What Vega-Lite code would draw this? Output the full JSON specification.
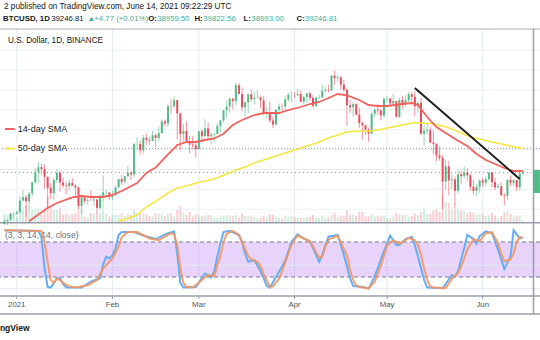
{
  "$schema": "https://vega.github.io/schema/vega-lite/v6.json",
  "width": 540,
  "height": 267,
  "autosize": {"type": "none"},
  "padding": {"left": 0, "right": 0, "top": 29, "bottom": 44},
  "background": "#ffffff",
  "config": {"view": {"stroke": null}, "font": "Liberation Sans"},
  "datasets": {
    "months": [
      {"d":"2021-01-01","lab":"2021"},{"d":"2021-02-01","lab":"Feb"},{"d":"2021-03-01","lab":"Mar"},
      {"d":"2021-04-01","lab":"Apr"},{"d":"2021-05-01","lab":"May"},{"d":"2021-06-01","lab":"Jun"}
    ],
    "candles": [
      {"d":"2020-12-28","o":26281,"h":27500,"l":26101,"c":27036,"v":82},
      {"d":"2020-12-29","o":27036,"h":27370,"l":25987,"c":27376,"v":74},
      {"d":"2020-12-30","o":27376,"h":28997,"l":27320,"c":28875,"v":96},
      {"d":"2020-12-31","o":28875,"h":29300,"l":27850,"c":28923,"v":76},
      {"d":"2021-01-01","o":28923,"h":29600,"l":28624,"c":29331,"v":54},
      {"d":"2021-01-02","o":29331,"h":33300,"l":28946,"c":32178,"v":130},
      {"d":"2021-01-03","o":32176,"h":34778,"l":31962,"c":33000,"v":121},
      {"d":"2021-01-04","o":33000,"h":33600,"l":28130,"c":31988,"v":164},
      {"d":"2021-01-05","o":31989,"h":34360,"l":29900,"c":33949,"v":120},
      {"d":"2021-01-06","o":33950,"h":36939,"l":33288,"c":36769,"v":126},
      {"d":"2021-01-07","o":36769,"h":40365,"l":36300,"c":39432,"v":135},
      {"d":"2021-01-08","o":39433,"h":41950,"l":36500,"c":40582,"v":139},
      {"d":"2021-01-09","o":40586,"h":41380,"l":38720,"c":40088,"v":75},
      {"d":"2021-01-10","o":40088,"h":41350,"l":35111,"c":38150,"v":115},
      {"d":"2021-01-11","o":38150,"h":38264,"l":30420,"c":35404,"v":252},
      {"d":"2021-01-12","o":35410,"h":36628,"l":32531,"c":34051,"v":155},
      {"d":"2021-01-13","o":34049,"h":37850,"l":32380,"c":37371,"v":126},
      {"d":"2021-01-14","o":37371,"h":40100,"l":36701,"c":39144,"v":120},
      {"d":"2021-01-15","o":39145,"h":39747,"l":34408,"c":36742,"v":146},
      {"d":"2021-01-16","o":36737,"h":37950,"l":35357,"c":35994,"v":73},
      {"d":"2021-01-17","o":35995,"h":36852,"l":33850,"c":35828,"v":82},
      {"d":"2021-01-18","o":35825,"h":37469,"l":34800,"c":36631,"v":70},
      {"d":"2021-01-19","o":36623,"h":37850,"l":35844,"c":35891,"v":79},
      {"d":"2021-01-20","o":35901,"h":36415,"l":33400,"c":35468,"v":91},
      {"d":"2021-01-21","o":35468,"h":35600,"l":30071,"c":30850,"v":132},
      {"d":"2021-01-22","o":30851,"h":33826,"l":28850,"c":32945,"v":138},
      {"d":"2021-01-23","o":32950,"h":33456,"l":31390,"c":32078,"v":53},
      {"d":"2021-01-24","o":32078,"h":32944,"l":31106,"c":32259,"v":48},
      {"d":"2021-01-25","o":32259,"h":34880,"l":32083,"c":32254,"v":89},
      {"d":"2021-01-26","o":32251,"h":32921,"l":30837,"c":32467,"v":85},
      {"d":"2021-01-27","o":32465,"h":32557,"l":29241,"c":30366,"v":100},
      {"d":"2021-01-28","o":30362,"h":33783,"l":29842,"c":33364,"v":90},
      {"d":"2021-01-29","o":33368,"h":38531,"l":31915,"c":34252,"v":199},
      {"d":"2021-01-30","o":34246,"h":34933,"l":32825,"c":34262,"v":82},
      {"d":"2021-01-31","o":34262,"h":34342,"l":32250,"c":33092,"v":55},
      {"d":"2021-02-01","o":33092,"h":34717,"l":32297,"c":33526,"v":67},
      {"d":"2021-02-02","o":33517,"h":35984,"l":33418,"c":35466,"v":71},
      {"d":"2021-02-03","o":35472,"h":37662,"l":35362,"c":37618,"v":73},
      {"d":"2021-02-04","o":37620,"h":38708,"l":36161,"c":36936,"v":89},
      {"d":"2021-02-05","o":36936,"h":38310,"l":36570,"c":38290,"v":62},
      {"d":"2021-02-06","o":38289,"h":40955,"l":38215,"c":39186,"v":79},
      {"d":"2021-02-07","o":39181,"h":39700,"l":37351,"c":38795,"v":70},
      {"d":"2021-02-08","o":38795,"h":46794,"l":37988,"c":46374,"v":123},
      {"d":"2021-02-09","o":46374,"h":48142,"l":44961,"c":46420,"v":90},
      {"d":"2021-02-10","o":46420,"h":47310,"l":43727,"c":44807,"v":84},
      {"d":"2021-02-11","o":44807,"h":48678,"l":43995,"c":47970,"v":84},
      {"d":"2021-02-12","o":47968,"h":48985,"l":46125,"c":47408,"v":76},
      {"d":"2021-02-13","o":47408,"h":48047,"l":46202,"c":47231,"v":58},
      {"d":"2021-02-14","o":47240,"h":49707,"l":47014,"c":48588,"v":56},
      {"d":"2021-02-15","o":48597,"h":49010,"l":45700,"c":47911,"v":88},
      {"d":"2021-02-16","o":47911,"h":50689,"l":47003,"c":49133,"v":80},
      {"d":"2021-02-17","o":49133,"h":52618,"l":48947,"c":52119,"v":73},
      {"d":"2021-02-18","o":52117,"h":52530,"l":50901,"c":51552,"v":59},
      {"d":"2021-02-19","o":51550,"h":56368,"l":50710,"c":55906,"v":80},
      {"d":"2021-02-20","o":55906,"h":57700,"l":53863,"c":55841,"v":85},
      {"d":"2021-02-21","o":55842,"h":58352,"l":55477,"c":57408,"v":52},
      {"d":"2021-02-22","o":57412,"h":57508,"l":47600,"c":54087,"v":122},
      {"d":"2021-02-23","o":54087,"h":54183,"l":44892,"c":48891,"v":160},
      {"d":"2021-02-24","o":48891,"h":51374,"l":47003,"c":49676,"v":88},
      {"d":"2021-02-25","o":49677,"h":52042,"l":46674,"c":47073,"v":70},
      {"d":"2021-02-26","o":47063,"h":48425,"l":44106,"c":46276,"v":100},
      {"d":"2021-02-27","o":46278,"h":48394,"l":45000,"c":46106,"v":55},
      {"d":"2021-02-28","o":46104,"h":46640,"l":43000,"c":45135,"v":82},
      {"d":"2021-03-01","o":45134,"h":49790,"l":45115,"c":49587,"v":68},
      {"d":"2021-03-02","o":49595,"h":50200,"l":47047,"c":48440,"v":56},
      {"d":"2021-03-03","o":48436,"h":52640,"l":48100,"c":50349,"v":64},
      {"d":"2021-03-04","o":50349,"h":51773,"l":47500,"c":48374,"v":69},
      {"d":"2021-03-05","o":48374,"h":49448,"l":46300,"c":48751,"v":72},
      {"d":"2021-03-06","o":48747,"h":49200,"l":47070,"c":48882,"v":44},
      {"d":"2021-03-07","o":48882,"h":51450,"l":48882,"c":50971,"v":44},
      {"d":"2021-03-08","o":50959,"h":52402,"l":49274,"c":52375,"v":56},
      {"d":"2021-03-09","o":52376,"h":54895,"l":51789,"c":54884,"v":61},
      {"d":"2021-03-10","o":54875,"h":57387,"l":53005,"c":55851,"v":74},
      {"d":"2021-03-11","o":55851,"h":58150,"l":54272,"c":57773,"v":65},
      {"d":"2021-03-12","o":57773,"h":58058,"l":55013,"c":57221,"v":62},
      {"d":"2021-03-13","o":57222,"h":61844,"l":56078,"c":61188,"v":71},
      {"d":"2021-03-14","o":61188,"h":61724,"l":58966,"c":58968,"v":46},
      {"d":"2021-03-15","o":58976,"h":60633,"l":54600,"c":55605,"v":84},
      {"d":"2021-03-16","o":55606,"h":56938,"l":53271,"c":56900,"v":60},
      {"d":"2021-03-17","o":56900,"h":58981,"l":54124,"c":58912,"v":62},
      {"d":"2021-03-18","o":58913,"h":60100,"l":57023,"c":57648,"v":57},
      {"d":"2021-03-19","o":57641,"h":59468,"l":56270,"c":58030,"v":48},
      {"d":"2021-03-20","o":58030,"h":59880,"l":57820,"c":58102,"v":37},
      {"d":"2021-03-21","o":58100,"h":58589,"l":55450,"c":57351,"v":44},
      {"d":"2021-03-22","o":57351,"h":58430,"l":53650,"c":54083,"v":60},
      {"d":"2021-03-23","o":54083,"h":55830,"l":53000,"c":54340,"v":53},
      {"d":"2021-03-24","o":54342,"h":57200,"l":51700,"c":52303,"v":77},
      {"d":"2021-03-25","o":52303,"h":53287,"l":50427,"c":51293,"v":75},
      {"d":"2021-03-26","o":51293,"h":55073,"l":51225,"c":55025,"v":52},
      {"d":"2021-03-27","o":55025,"h":56600,"l":53966,"c":55817,"v":42},
      {"d":"2021-03-28","o":55818,"h":56578,"l":54691,"c":55777,"v":36},
      {"d":"2021-03-29","o":55782,"h":58400,"l":54900,"c":57635,"v":55},
      {"d":"2021-03-30","o":57635,"h":59368,"l":57000,"c":58746,"v":52},
      {"d":"2021-03-31","o":58740,"h":59800,"l":56769,"c":58740,"v":62},
      {"d":"2021-04-01","o":58739,"h":59490,"l":57935,"c":58720,"v":48},
      {"d":"2021-04-02","o":58720,"h":60200,"l":58428,"c":58950,"v":45},
      {"d":"2021-04-03","o":58951,"h":59791,"l":56956,"c":57051,"v":48},
      {"d":"2021-04-04","o":57048,"h":58500,"l":56478,"c":58202,"v":40},
      {"d":"2021-04-05","o":58202,"h":59253,"l":56817,"c":59129,"v":52},
      {"d":"2021-04-06","o":59129,"h":59475,"l":57333,"c":57991,"v":55},
      {"d":"2021-04-07","o":57990,"h":58650,"l":55473,"c":56000,"v":74},
      {"d":"2021-04-08","o":55953,"h":58153,"l":55700,"c":58076,"v":46},
      {"d":"2021-04-09","o":58077,"h":58894,"l":57654,"c":58131,"v":39},
      {"d":"2021-04-10","o":58130,"h":61215,"l":57900,"c":59770,"v":60},
      {"d":"2021-04-11","o":59770,"h":60800,"l":59360,"c":60007,"v":34},
      {"d":"2021-04-12","o":60007,"h":61300,"l":59350,"c":59860,"v":51},
      {"d":"2021-04-13","o":59861,"h":63774,"l":59805,"c":63575,"v":72},
      {"d":"2021-04-14","o":63575,"h":64854,"l":61301,"c":62959,"v":92},
      {"d":"2021-04-15","o":62959,"h":63800,"l":62020,"c":63159,"v":48},
      {"d":"2021-04-16","o":63159,"h":63520,"l":60000,"c":61334,"v":66},
      {"d":"2021-04-17","o":61334,"h":62506,"l":59580,"c":60006,"v":60},
      {"d":"2021-04-18","o":60006,"h":60499,"l":50931,"c":56150,"v":120},
      {"d":"2021-04-19","o":56150,"h":57526,"l":54221,"c":55633,"v":74},
      {"d":"2021-04-20","o":55634,"h":57076,"l":53329,"c":56425,"v":80},
      {"d":"2021-04-21","o":56425,"h":56757,"l":53695,"c":53787,"v":63},
      {"d":"2021-04-22","o":53787,"h":55410,"l":50400,"c":51690,"v":104},
      {"d":"2021-04-23","o":51690,"h":52131,"l":47500,"c":51125,"v":106},
      {"d":"2021-04-24","o":51111,"h":51166,"l":48657,"c":50047,"v":55},
      {"d":"2021-04-25","o":50047,"h":50567,"l":46930,"c":49004,"v":58},
      {"d":"2021-04-26","o":49004,"h":54356,"l":48753,"c":54021,"v":82},
      {"d":"2021-04-27","o":54022,"h":55460,"l":53222,"c":55034,"v":56},
      {"d":"2021-04-28","o":55034,"h":56428,"l":53813,"c":54824,"v":59},
      {"d":"2021-04-29","o":54824,"h":55200,"l":52330,"c":53556,"v":57},
      {"d":"2021-04-30","o":53556,"h":58075,"l":53013,"c":57750,"v":68},
      {"d":"2021-05-01","o":57751,"h":58448,"l":57052,"c":57828,"v":42},
      {"d":"2021-05-02","o":57828,"h":57911,"l":56035,"c":56610,"v":37},
      {"d":"2021-05-03","o":56610,"h":58973,"l":56478,"c":57213,"v":53},
      {"d":"2021-05-04","o":57214,"h":57214,"l":53046,"c":53241,"v":87},
      {"d":"2021-05-05","o":53241,"h":57939,"l":52900,"c":57473,"v":75},
      {"d":"2021-05-06","o":57473,"h":58360,"l":55200,"c":56428,"v":72},
      {"d":"2021-05-07","o":56429,"h":58644,"l":55800,"c":57380,"v":69},
      {"d":"2021-05-08","o":57380,"h":59500,"l":56957,"c":58929,"v":50},
      {"d":"2021-05-09","o":58929,"h":59300,"l":56235,"c":58280,"v":61},
      {"d":"2021-05-10","o":58280,"h":59592,"l":53400,"c":55883,"v":90},
      {"d":"2021-05-11","o":55883,"h":56900,"l":54370,"c":56750,"v":68},
      {"d":"2021-05-12","o":56750,"h":58000,"l":48600,"c":49007,"v":97},
      {"d":"2021-05-13","o":49007,"h":51367,"l":46000,"c":49716,"v":148},
      {"d":"2021-05-14","o":49690,"h":51560,"l":48870,"c":49880,"v":82},
      {"d":"2021-05-15","o":49880,"h":50700,"l":46650,"c":46761,"v":83},
      {"d":"2021-05-16","o":46762,"h":49800,"l":43825,"c":46450,"v":117},
      {"d":"2021-05-17","o":46450,"h":46650,"l":42001,"c":43538,"v":131},
      {"d":"2021-05-18","o":43538,"h":45800,"l":42250,"c":42909,"v":100},
      {"d":"2021-05-19","o":42909,"h":43546,"l":30000,"c":36964,"v":270},
      {"d":"2021-05-20","o":36964,"h":42451,"l":34850,"c":40784,"v":200},
      {"d":"2021-05-21","o":40784,"h":42250,"l":33488,"c":37280,"v":190},
      {"d":"2021-05-22","o":37281,"h":38832,"l":35200,"c":37528,"v":127},
      {"d":"2021-05-23","o":37528,"h":38270,"l":31111,"c":34655,"v":183},
      {"d":"2021-05-24","o":34656,"h":39920,"l":34031,"c":38796,"v":146},
      {"d":"2021-05-25","o":38796,"h":39791,"l":36420,"c":38324,"v":114},
      {"d":"2021-05-26","o":38325,"h":40841,"l":37800,"c":39241,"v":104},
      {"d":"2021-05-27","o":39241,"h":40411,"l":37134,"c":38529,"v":83},
      {"d":"2021-05-28","o":38529,"h":38877,"l":34684,"c":35663,"v":100},
      {"d":"2021-05-29","o":35661,"h":37338,"l":33632,"c":34605,"v":90},
      {"d":"2021-05-30","o":34605,"h":36400,"l":33379,"c":35641,"v":70},
      {"d":"2021-05-31","o":35641,"h":37499,"l":34154,"c":37253,"v":80},
      {"d":"2021-06-01","o":37254,"h":37894,"l":35666,"c":36693,"v":76},
      {"d":"2021-06-02","o":36694,"h":38225,"l":35920,"c":37568,"v":60},
      {"d":"2021-06-03","o":37568,"h":39476,"l":37170,"c":39246,"v":68},
      {"d":"2021-06-04","o":39246,"h":39289,"l":35555,"c":36829,"v":90},
      {"d":"2021-06-05","o":36830,"h":37925,"l":34800,"c":35513,"v":64},
      {"d":"2021-06-06","o":35516,"h":36480,"l":35258,"c":35796,"v":38},
      {"d":"2021-06-07","o":35796,"h":36900,"l":33300,"c":33552,"v":60},
      {"d":"2021-06-08","o":33556,"h":34068,"l":31000,"c":33380,"v":100},
      {"d":"2021-06-09","o":33380,"h":37534,"l":32396,"c":37389,"v":110},
      {"d":"2021-06-10","o":37388,"h":38491,"l":35782,"c":36662,"v":84},
      {"d":"2021-06-11","o":36677,"h":37680,"l":35937,"c":37334,"v":55},
      {"d":"2021-06-12","o":37331,"h":37429,"l":34600,"c":35546,"v":65},
      {"d":"2021-06-13","o":35546,"h":39380,"l":34757,"c":39020,"v":66},
      {"d":"2021-06-14","o":38959.5,"h":39822.56,"l":38693,"c":39246.81,"v":20}
    ],
    "sma14": [
      {"d":"2021-01-05","p":27000},{"d":"2021-01-08","p":28700},{"d":"2021-01-11","p":30325},{"d":"2021-01-14","p":31581},
      {"d":"2021-01-19","p":33000},{"d":"2021-01-22","p":33340},{"d":"2021-01-25","p":33089},{"d":"2021-01-29","p":33089},
      {"d":"2021-02-01","p":33592},{"d":"2021-02-04","p":34597},{"d":"2021-02-07","p":35800},{"d":"2021-02-09","p":36607},
      {"d":"2021-02-12","p":39120},{"d":"2021-02-15","p":40500},{"d":"2021-02-18","p":43000},{"d":"2021-02-22","p":46157},
      {"d":"2021-02-25","p":46911},{"d":"2021-02-28","p":46911},{"d":"2021-03-03","p":47413},{"d":"2021-03-06","p":47800},
      {"d":"2021-03-09","p":49000},{"d":"2021-03-12","p":51183},{"d":"2021-03-15","p":52439},{"d":"2021-03-19","p":53696},
      {"d":"2021-03-22","p":54198},{"d":"2021-03-27","p":54198},{"d":"2021-03-30","p":54952},{"d":"2021-04-03","p":55706},
      {"d":"2021-04-06","p":56460},{"d":"2021-04-09","p":56963},{"d":"2021-04-12","p":57968},{"d":"2021-04-15","p":58973},
      {"d":"2021-04-18","p":58600},{"d":"2021-04-22","p":57465},{"d":"2021-04-25","p":56209},{"d":"2021-04-28","p":55958},
      {"d":"2021-05-01","p":55958},{"d":"2021-05-06","p":56460},{"d":"2021-05-09","p":56711},{"d":"2021-05-11","p":56209},
      {"d":"2021-05-14","p":53193},{"d":"2021-05-17","p":50680},{"d":"2021-05-20","p":49172},{"d":"2021-05-24","p":47200},
      {"d":"2021-05-27","p":45906},{"d":"2021-05-30","p":43895},{"d":"2021-06-02","p":42387},{"d":"2021-06-05","p":41382},
      {"d":"2021-06-08","p":40377},{"d":"2021-06-11","p":39623},{"d":"2021-06-14","p":39623}
    ],
    "sma50": [
      {"d":"2021-02-03","p":27000},{"d":"2021-02-09","p":28566},{"d":"2021-02-12","p":30576},{"d":"2021-02-15","p":32000},
      {"d":"2021-02-19","p":34094},{"d":"2021-02-22","p":35351},{"d":"2021-02-25","p":35854},{"d":"2021-02-28","p":36607},
      {"d":"2021-03-03","p":37110},{"d":"2021-03-07","p":37864},{"d":"2021-03-10","p":38869},{"d":"2021-03-13","p":39874},
      {"d":"2021-03-16","p":40628},{"d":"2021-03-19","p":41633},{"d":"2021-03-24","p":42890},{"d":"2021-03-27","p":43644},
      {"d":"2021-03-30","p":44398},{"d":"2021-04-03","p":45403},{"d":"2021-04-06","p":46157},{"d":"2021-04-09","p":46911},
      {"d":"2021-04-12","p":47916},{"d":"2021-04-15","p":48670},{"d":"2021-04-18","p":49424},{"d":"2021-04-22","p":49675},
      {"d":"2021-04-25","p":49675},{"d":"2021-04-28","p":49926},{"d":"2021-05-01","p":50429},{"d":"2021-05-06","p":51183},
      {"d":"2021-05-09","p":51685},{"d":"2021-05-12","p":51685},{"d":"2021-05-15","p":51560},{"d":"2021-05-19","p":50932},
      {"d":"2021-05-22","p":50178},{"d":"2021-05-25","p":49172},{"d":"2021-05-28","p":48167},{"d":"2021-05-31","p":47665},
      {"d":"2021-06-03","p":47100},{"d":"2021-06-07","p":46408},{"d":"2021-06-10","p":45906},{"d":"2021-06-14","p":45300}
    ],
    "stochK": [
      {"d":"2020-12-28","v":100},{"d":"2021-01-08","v":99},{"d":"2021-01-09","v":88},{"d":"2021-01-10","v":35},
      {"d":"2021-01-11","v":3},{"d":"2021-01-12","v":2},{"d":"2021-01-13","v":9},{"d":"2021-01-14","v":18},
      {"d":"2021-01-15","v":18},{"d":"2021-01-16","v":8},{"d":"2021-01-17","v":2},{"d":"2021-01-22","v":2},
      {"d":"2021-01-25","v":12},{"d":"2021-01-26","v":14},{"d":"2021-01-28","v":18},{"d":"2021-01-29","v":42},
      {"d":"2021-01-30","v":55},{"d":"2021-01-31","v":52},{"d":"2021-02-01","v":57},{"d":"2021-02-02","v":68},
      {"d":"2021-02-03","v":92},{"d":"2021-02-04","v":97},{"d":"2021-02-08","v":97},{"d":"2021-02-11","v":91},
      {"d":"2021-02-15","v":85},{"d":"2021-02-19","v":95},{"d":"2021-02-21","v":98},{"d":"2021-02-22","v":60},
      {"d":"2021-02-23","v":10},{"d":"2021-02-24","v":2},{"d":"2021-02-28","v":3},{"d":"2021-03-03","v":26},
      {"d":"2021-03-05","v":19},{"d":"2021-03-06","v":30},{"d":"2021-03-07","v":55},{"d":"2021-03-08","v":78},
      {"d":"2021-03-09","v":97},{"d":"2021-03-11","v":99},{"d":"2021-03-14","v":92},{"d":"2021-03-15","v":80},
      {"d":"2021-03-16","v":60},{"d":"2021-03-17","v":46},{"d":"2021-03-19","v":49},{"d":"2021-03-21","v":30},
      {"d":"2021-03-22","v":18},{"d":"2021-03-23","v":5},{"d":"2021-03-24","v":2},{"d":"2021-03-27","v":29},
      {"d":"2021-03-29","v":48},{"d":"2021-03-31","v":80},{"d":"2021-04-02","v":93},{"d":"2021-04-04","v":86},
      {"d":"2021-04-06","v":81},{"d":"2021-04-09","v":46},{"d":"2021-04-10","v":58},{"d":"2021-04-12","v":89},
      {"d":"2021-04-15","v":92},{"d":"2021-04-17","v":58},{"d":"2021-04-19","v":18},{"d":"2021-04-20","v":5},
      {"d":"2021-04-24","v":2},{"d":"2021-04-25","v":0},{"d":"2021-04-27","v":21},{"d":"2021-04-29","v":50},
      {"d":"2021-04-30","v":64},{"d":"2021-05-02","v":91},{"d":"2021-05-04","v":75},{"d":"2021-05-05","v":75},
      {"d":"2021-05-07","v":85},{"d":"2021-05-09","v":89},{"d":"2021-05-10","v":75},{"d":"2021-05-11","v":55},
      {"d":"2021-05-12","v":35},{"d":"2021-05-13","v":15},{"d":"2021-05-14","v":2},{"d":"2021-05-19","v":1},
      {"d":"2021-05-20","v":8},{"d":"2021-05-21","v":16},{"d":"2021-05-22","v":23},{"d":"2021-05-23","v":21},
      {"d":"2021-05-24","v":30},{"d":"2021-05-25","v":50},{"d":"2021-05-26","v":70},{"d":"2021-05-27","v":92},
      {"d":"2021-05-29","v":85},{"d":"2021-05-30","v":77},{"d":"2021-05-31","v":90},{"d":"2021-06-02","v":98},
      {"d":"2021-06-04","v":95},{"d":"2021-06-06","v":66},{"d":"2021-06-08","v":34},{"d":"2021-06-10","v":55},
      {"d":"2021-06-11","v":100},{"d":"2021-06-13","v":86},{"d":"2021-06-14","v":87}
    ],
    "stochD": [
      {"d":"2020-12-28","v":100},{"d":"2021-01-09","v":99},{"d":"2021-01-10","v":80},{"d":"2021-01-11","v":45},
      {"d":"2021-01-12","v":15},{"d":"2021-01-13","v":10},{"d":"2021-01-14","v":17},{"d":"2021-01-15","v":15},
      {"d":"2021-01-16","v":10},{"d":"2021-01-18","v":4},{"d":"2021-01-20","v":2},{"d":"2021-01-24","v":6},
      {"d":"2021-01-27","v":15},{"d":"2021-01-29","v":35},{"d":"2021-02-01","v":52},{"d":"2021-02-03","v":72},
      {"d":"2021-02-04","v":88},{"d":"2021-02-06","v":97},{"d":"2021-02-09","v":97},{"d":"2021-02-13","v":86},
      {"d":"2021-02-16","v":83},{"d":"2021-02-20","v":95},{"d":"2021-02-21","v":92},{"d":"2021-02-22","v":75},
      {"d":"2021-02-23","v":35},{"d":"2021-02-24","v":10},{"d":"2021-02-25","v":3},{"d":"2021-02-27","v":2},
      {"d":"2021-03-01","v":10},{"d":"2021-03-03","v":20},{"d":"2021-03-04","v":23},{"d":"2021-03-06","v":22},
      {"d":"2021-03-07","v":40},{"d":"2021-03-08","v":57},{"d":"2021-03-09","v":80},{"d":"2021-03-10","v":94},
      {"d":"2021-03-12","v":99},{"d":"2021-03-14","v":92},{"d":"2021-03-15","v":80},{"d":"2021-03-16","v":68},
      {"d":"2021-03-17","v":56},{"d":"2021-03-18","v":50},{"d":"2021-03-20","v":46},{"d":"2021-03-21","v":38},
      {"d":"2021-03-22","v":25},{"d":"2021-03-23","v":15},{"d":"2021-03-24","v":3},{"d":"2021-03-25","v":4},
      {"d":"2021-03-27","v":17},{"d":"2021-03-28","v":30},{"d":"2021-03-29","v":45},{"d":"2021-03-30","v":60},
      {"d":"2021-03-31","v":75},{"d":"2021-04-02","v":91},{"d":"2021-04-04","v":86},{"d":"2021-04-06","v":81},
      {"d":"2021-04-07","v":72},{"d":"2021-04-09","v":53},{"d":"2021-04-10","v":55},{"d":"2021-04-11","v":72},
      {"d":"2021-04-12","v":84},{"d":"2021-04-15","v":91},{"d":"2021-04-16","v":80},{"d":"2021-04-17","v":68},
      {"d":"2021-04-18","v":57},{"d":"2021-04-19","v":32},{"d":"2021-04-20","v":15},{"d":"2021-04-21","v":6},
      {"d":"2021-04-22","v":3},{"d":"2021-04-25","v":0.6},{"d":"2021-04-27","v":12},{"d":"2021-04-29","v":40},
      {"d":"2021-04-30","v":57},{"d":"2021-05-01","v":74},{"d":"2021-05-03","v":83},{"d":"2021-05-05","v":77},
      {"d":"2021-05-06","v":80},{"d":"2021-05-08","v":87},{"d":"2021-05-10","v":83},{"d":"2021-05-11","v":75},
      {"d":"2021-05-12","v":58},{"d":"2021-05-13","v":35},{"d":"2021-05-14","v":15},{"d":"2021-05-15","v":4},
      {"d":"2021-05-16","v":2},{"d":"2021-05-20","v":1},{"d":"2021-05-22","v":17},{"d":"2021-05-24","v":27},
      {"d":"2021-05-25","v":38},{"d":"2021-05-26","v":52},{"d":"2021-05-27","v":67},{"d":"2021-05-29","v":85},
      {"d":"2021-05-31","v":81},{"d":"2021-06-02","v":95},{"d":"2021-06-04","v":97},{"d":"2021-06-06","v":77},
      {"d":"2021-06-07","v":60},{"d":"2021-06-08","v":47},{"d":"2021-06-10","v":50},{"d":"2021-06-11","v":60},
      {"d":"2021-06-12","v":80},{"d":"2021-06-13","v":89},{"d":"2021-06-14","v":87}
    ]
  },
  "layer": [
    {
      "layer": [
        {
          "data": {"name": "months"},
          "mark": {"type": "rule", "color": "#e4ebf4", "strokeWidth": 1},
          "encoding": {
            "x": {"field": "d", "type": "temporal", "scale": {"type": "utc", "domain": [1609129411200, 1623969105840], "nice": false}, "axis": null},
            "y": {"datum": 444.7, "type": "quantitative", "scale": {"domain": [0, 100], "range": [259.7, 201.3], "nice": false, "zero": false}, "axis": null},
            "y2": {"datum": -12.5}
          }
        }
      ]
    },
    {
      "data": {"name": "candles"},
      "mark": {"type": "bar", "size": 2, "opacity": 0.28},
      "encoding": {
        "x": {"field": "d", "type": "temporal", "scale": {"type": "utc", "domain": [1609129411200, 1623969105840], "nice": false}, "axis": null},
        "y": {"field": "v", "type": "quantitative", "scale": {"domain": [0, 300], "range": [193, 163], "nice": false, "zero": false}, "axis": null},
        "color": {"condition": {"test": "datum.c >= datum.o", "value": "#53b987"}, "value": "#eb4d5c"}
      }
    },
    {
      "layer": [
        {
          "data": {"values": [{"p":30000},{"p":35000},{"p":40000},{"p":45000},{"p":50000},{"p":55000},{"p":60000},{"p":65000},{"p":70000}]},
          "mark": {"type": "rule", "color": "#edf1f6", "strokeWidth": 1},
          "encoding": {"y": {"field": "p", "type": "quantitative", "scale": {"domain": [26807, 75308], "range": [193, 0], "nice": false, "zero": false}, "axis": null}}
        },
        {
          "data": {"values": [{"p": 75308}]},
          "mark": {"type": "rule", "color": "#a9acb5", "strokeWidth": 1},
          "encoding": {"y": {"field": "p", "type": "quantitative", "scale": {"domain": [26807, 75308], "range": [193, 0], "nice": false, "zero": false}, "axis": null}}
        }
      ]
    },
    {
      "layer": [
        {
          "data": {"values": [{"a": 20, "b": 80}]},
          "mark": {"type": "rect", "color": "#b36cf2", "opacity": 0.3},
          "encoding": {
            "y": {"field": "a", "type": "quantitative", "scale": {"domain": [0, 100], "range": [259.7, 201.3], "nice": false, "zero": false}, "axis": null},
            "y2": {"field": "b"}
          }
        },
        {
          "data": {"values": [{"v": 0}, {"v": 40}]},
          "mark": {"type": "rule", "color": "#e6ebf2", "strokeWidth": 1},
          "encoding": {"y": {"field": "v", "type": "quantitative", "scale": {"domain": [0, 100], "range": [259.7, 201.3], "nice": false, "zero": false}, "axis": null}}
        },
        {
          "data": {"values": [{"v": 20}, {"v": 80}]},
          "mark": {"type": "rule", "color": "#787b86", "strokeWidth": 1, "strokeDash": [4, 3]},
          "encoding": {"y": {"field": "v", "type": "quantitative", "scale": {"domain": [0, 100], "range": [259.7, 201.3], "nice": false, "zero": false}, "axis": null}}
        },
        {
          "data": {"values": [{"t": 1609129411200, "v": 92, "s": "(3, 3, 14, 14, close)"}]},
          "mark": {"type": "text", "align": "left", "baseline": "middle", "fontSize": 8.6, "color": "#6a6d78", "font": "Liberation Sans"},
          "encoding": {
            "x": {"field": "t", "type": "temporal", "scale": {"type": "utc", "domain": [1609129411200, 1623969105840], "nice": false}, "axis": null},
            "y": {"field": "v", "type": "quantitative", "scale": {"domain": [0, 100], "range": [259.7, 201.3], "nice": false, "zero": false}, "axis": null},
            "text": {"field": "s"}
          }
        },
        {
          "data": {"name": "stochK"},
          "mark": {"type": "line", "color": "#63aef5", "strokeWidth": 2},
          "encoding": {
            "x": {"field": "d", "type": "temporal", "scale": {"type": "utc", "domain": [1609129411200, 1623969105840], "nice": false}, "axis": null},
            "y": {"field": "v", "type": "quantitative", "scale": {"domain": [0, 100], "range": [259.7, 201.3], "nice": false, "zero": false}, "axis": null}
          }
        },
        {
          "data": {"name": "stochD"},
          "mark": {"type": "line", "color": "#f5955f", "strokeWidth": 2, "opacity": 0.9},
          "encoding": {
            "x": {"field": "d", "type": "temporal", "scale": {"type": "utc", "domain": [1609129411200, 1623969105840], "nice": false}, "axis": null},
            "y": {"field": "v", "type": "quantitative", "scale": {"domain": [0, 100], "range": [259.7, 201.3], "nice": false, "zero": false}, "axis": null}
          }
        },
        {
          "data": {"values": [{"v": 112.8}, {"v": -12.5}, {"v": -43.3}]},
          "mark": {"type": "rule", "color": "#9a9ea8", "strokeWidth": 1.5},
          "encoding": {"y": {"field": "v", "type": "quantitative", "scale": {"domain": [0, 100], "range": [259.7, 201.3], "nice": false, "zero": false}, "axis": null}}
        },
        {
          "data": {"name": "months"},
          "mark": {"type": "rule", "color": "#9a9ea8", "strokeWidth": 1},
          "encoding": {
            "x": {"field": "d", "type": "temporal", "scale": {"type": "utc", "domain": [1609129411200, 1623969105840], "nice": false}, "axis": null},
            "y": {"datum": -12.5, "type": "quantitative", "scale": {"domain": [0, 100], "range": [259.7, 201.3], "nice": false, "zero": false}, "axis": null},
            "y2": {"datum": -18}
          }
        },
        {
          "data": {"name": "months"},
          "mark": {"type": "text", "align": "center", "baseline": "middle", "fontSize": 7.8, "color": "#50535e", "font": "Liberation Sans"},
          "encoding": {
            "x": {"field": "d", "type": "temporal", "scale": {"type": "utc", "domain": [1609129411200, 1623969105840], "nice": false}, "axis": null},
            "y": {"datum": -28, "type": "quantitative", "scale": {"domain": [0, 100], "range": [259.7, 201.3], "nice": false, "zero": false}, "axis": null},
            "text": {"field": "lab"}
          }
        },
        {
          "data": {"values": [{"t": 1623927884466, "a": 444.7, "b": -43.3}]},
          "mark": {"type": "rule", "color": "#9a9ea8", "strokeWidth": 1.5},
          "encoding": {
            "x": {"field": "t", "type": "temporal", "scale": {"type": "utc", "domain": [1609129411200, 1623969105840], "nice": false}, "axis": null},
            "y": {"field": "a", "type": "quantitative", "scale": {"domain": [0, 100], "range": [259.7, 201.3], "nice": false, "zero": false}, "axis": null},
            "y2": {"field": "b"}
          }
        },
        {
          "data": {"values": [{"t": 1609816434100, "v": -67.3, "s": "TradingView"}]},
          "mark": {"type": "text", "align": "right", "baseline": "middle", "fontSize": 8.5, "fontWeight": "bold", "color": "#131722", "font": "Liberation Sans"},
          "encoding": {
            "x": {"field": "t", "type": "temporal", "scale": {"type": "utc", "domain": [1609129411200, 1623969105840], "nice": false}, "axis": null},
            "y": {"field": "v", "type": "quantitative", "scale": {"domain": [0, 100], "range": [259.7, 201.3], "nice": false, "zero": false}, "axis": null},
            "text": {"field": "s"}
          }
        }
      ]
    },
    {
      "layer": [
        {
          "data": {"values": [{"p": 45300, "k": "sma"}]},
          "mark": {"type": "rule", "color": "#9598a1", "strokeWidth": 1, "strokeDash": [1, 2]},
          "encoding": {"y": {"field": "p", "type": "quantitative", "scale": {"domain": [26807, 75308], "range": [193, 0], "nice": false, "zero": false}, "axis": null}}
        },
        {
          "data": {"values": [{"p": 39246.81, "k": "close"}]},
          "mark": {"type": "rule", "color": "#53b987", "strokeWidth": 1, "strokeDash": [1, 3]},
          "encoding": {"y": {"field": "p", "type": "quantitative", "scale": {"domain": [26807, 75308], "range": [193, 0], "nice": false, "zero": false}, "axis": null}}
        },
        {
          "data": {"name": "candles"},
          "mark": {"type": "rule", "strokeWidth": 1, "opacity": 0.6},
          "encoding": {
            "x": {"field": "d", "type": "temporal", "scale": {"type": "utc", "domain": [1609129411200, 1623969105840], "nice": false}, "axis": null},
            "y": {"field": "l", "type": "quantitative", "scale": {"domain": [26807, 75308], "range": [193, 0], "nice": false, "zero": false}, "axis": null},
            "y2": {"field": "h"},
            "color": {"condition": {"test": "datum.c >= datum.o", "value": "#53b987"}, "value": "#eb4d5c"}
          }
        },
        {
          "data": {"name": "candles"},
          "mark": {"type": "bar", "size": 2},
          "encoding": {
            "x": {"field": "d", "type": "temporal", "scale": {"type": "utc", "domain": [1609129411200, 1623969105840], "nice": false}, "axis": null},
            "y": {"field": "o", "type": "quantitative", "scale": {"domain": [26807, 75308], "range": [193, 0], "nice": false, "zero": false}, "axis": null},
            "y2": {"field": "c"},
            "color": {"condition": {"test": "datum.c >= datum.o", "value": "#53b987"}, "value": "#eb4d5c"}
          }
        },
        {
          "data": {"name": "sma50"},
          "mark": {"type": "line", "color": "#f7e640", "strokeWidth": 1.6},
          "encoding": {
            "x": {"field": "d", "type": "temporal", "scale": {"type": "utc", "domain": [1609129411200, 1623969105840], "nice": false}, "axis": null},
            "y": {"field": "p", "type": "quantitative", "scale": {"domain": [26807, 75308], "range": [193, 0], "nice": false, "zero": false}, "axis": null}
          }
        },
        {
          "data": {"name": "sma14"},
          "mark": {"type": "line", "color": "#f4625e", "strokeWidth": 1.8},
          "encoding": {
            "x": {"field": "d", "type": "temporal", "scale": {"type": "utc", "domain": [1609129411200, 1623969105840], "nice": false}, "axis": null},
            "y": {"field": "p", "type": "quantitative", "scale": {"domain": [26807, 75308], "range": [193, 0], "nice": false, "zero": false}, "axis": null}
          }
        },
        {
          "data": {"values": [{"d": "2021-05-10", "p": 60480}, {"d": "2021-06-13", "p": 37610}]},
          "mark": {"type": "line", "color": "#1e1e1e", "strokeWidth": 2},
          "encoding": {
            "x": {"field": "d", "type": "temporal", "scale": {"type": "utc", "domain": [1609129411200, 1623969105840], "nice": false}, "axis": null},
            "y": {"field": "p", "type": "quantitative", "scale": {"domain": [26807, 75308], "range": [193, 0], "nice": false, "zero": false}, "axis": null}
          }
        },
        {
          "data": {"values": [{"t": 1623914144008, "t2": 1624106510420, "p": 39900, "p2": 34100}]},
          "mark": {"type": "rect", "color": "#53b987"},
          "encoding": {
            "x": {"field": "t", "type": "temporal", "scale": {"type": "utc", "domain": [1609129411200, 1623969105840], "nice": false}, "axis": null},
            "x2": {"field": "t2"},
            "y": {"field": "p", "type": "quantitative", "scale": {"domain": [26807, 75308], "range": [193, 0], "nice": false, "zero": false}, "axis": null},
            "y2": {"field": "p2"}
          }
        },
        {
          "data": {"values": [{"t": 1609431701276, "t2": 1610888189824, "p": 51686, "p2": 48670}, {"t": 1609431701276, "t2": 1610888189824, "p": 46785, "p2": 43770}]},
          "mark": {"type": "rect", "color": "#ffffff"},
          "encoding": {
            "x": {"field": "t", "type": "temporal", "scale": {"type": "utc", "domain": [1609129411200, 1623969105840], "nice": false}, "axis": null},
            "x2": {"field": "t2"},
            "y": {"field": "p", "type": "quantitative", "scale": {"domain": [26807, 75308], "range": [193, 0], "nice": false, "zero": false}, "axis": null},
            "y2": {"field": "p2"}
          }
        },
        {
          "data": {"values": [{"t": 1609129411200, "t2": 1609404220360, "p": 50178, "k": "a"}]},
          "mark": {"type": "rule", "color": "#f4625e", "strokeWidth": 2},
          "encoding": {
            "x": {"field": "t", "type": "temporal", "scale": {"type": "utc", "domain": [1609129411200, 1623969105840], "nice": false}, "axis": null},
            "x2": {"field": "t2"},
            "y": {"field": "p", "type": "quantitative", "scale": {"domain": [26807, 75308], "range": [193, 0], "nice": false, "zero": false}, "axis": null}
          }
        },
        {
          "data": {"values": [{"t": 1609129411200, "t2": 1609404220360, "p": 45278, "k": "b"}]},
          "mark": {"type": "rule", "color": "#f7e640", "strokeWidth": 2},
          "encoding": {
            "x": {"field": "t", "type": "temporal", "scale": {"type": "utc", "domain": [1609129411200, 1623969105840], "nice": false}, "axis": null},
            "x2": {"field": "t2"},
            "y": {"field": "p", "type": "quantitative", "scale": {"domain": [26807, 75308], "range": [193, 0], "nice": false, "zero": false}, "axis": null}
          }
        },
        {
          "data": {"values": [
            {"t": 1609486663108, "p": 50178, "s": "14-day SMA"},
            {"t": 1609486663108, "p": 45278, "s": "50-day SMA"}
          ]},
          "mark": {"type": "text", "align": "left", "baseline": "middle", "fontSize": 9, "color": "#131722", "font": "Liberation Sans"},
          "encoding": {
            "x": {"field": "t", "type": "temporal", "scale": {"type": "utc", "domain": [1609129411200, 1623969105840], "nice": false}, "axis": null},
            "y": {"field": "p", "type": "quantitative", "scale": {"domain": [26807, 75308], "range": [193, 0], "nice": false, "zero": false}, "axis": null},
            "text": {"field": "s"}
          }
        },
        {
          "data": {"values": [
            {"t": 1609101930284, "p": 80711, "s": "2 published on TradingView.com, June 14, 2021 09:22:29 UTC"},
            {"t": 1609211853948, "p": 72292, "s": "U.S. Dollar, 1D, BINANCE"}
          ]},
          "mark": {"type": "text", "align": "left", "baseline": "middle", "fontSize": 8.2, "color": "#131722", "font": "Liberation Sans"},
          "encoding": {
            "x": {"field": "t", "type": "temporal", "scale": {"type": "utc", "domain": [1609129411200, 1623969105840], "nice": false}, "axis": null},
            "y": {"field": "p", "type": "quantitative", "scale": {"domain": [26807, 75308], "range": [193, 0], "nice": false, "zero": false}, "axis": null},
            "text": {"field": "s"}
          }
        },
        {
          "data": {"values": [
            {"t": 1610421014252, "p": 77821, "s": "39246.81"}
          ]},
          "mark": {"type": "text", "align": "left", "baseline": "middle", "fontSize": 7.8, "color": "#131722", "font": "Liberation Sans"},
          "encoding": {
            "x": {"field": "t", "type": "temporal", "scale": {"type": "utc", "domain": [1609129411200, 1623969105840], "nice": false}, "axis": null},
            "y": {"field": "p", "type": "quantitative", "scale": {"domain": [26807, 75308], "range": [193, 0], "nice": false, "zero": false}, "axis": null},
            "text": {"field": "s"}
          }
        },
        {
          "data": {"values": [
            {"t": 1609074449368, "p": 77821, "s": "BTCUSD, 1D"},
            {"t": 1613141624936, "p": 77821, "s": "O:"},
            {"t": 1614433227988, "p": 77821, "s": "H:"},
            {"t": 1615807273788, "p": 77821, "s": "L:"},
            {"t": 1617291243252, "p": 77821, "s": "C:"}
          ]},
          "mark": {"type": "text", "align": "left", "baseline": "middle", "fontSize": 7.8, "fontWeight": "bold", "color": "#131722", "font": "Liberation Sans"},
          "encoding": {
            "x": {"field": "t", "type": "temporal", "scale": {"type": "utc", "domain": [1609129411200, 1623969105840], "nice": false}, "axis": null},
            "y": {"field": "p", "type": "quantitative", "scale": {"domain": [26807, 75308], "range": [193, 0], "nice": false, "zero": false}, "axis": null},
            "text": {"field": "s"}
          }
        },
        {
          "data": {"values": [
            {"t": 1611437808144, "p": 77821, "s": "▲"},
            {"t": 1611630174556, "p": 77821, "s": "+4.77 (+0.01%)"},
            {"t": 1613388953180, "p": 77821, "s": "38959.50"},
            {"t": 1614680556232, "p": 77821, "s": "39822.56"},
            {"t": 1616027121116, "p": 77821, "s": "38693.00"},
            {"t": 1617524830638, "p": 77821, "s": "39246.81"}
          ]},
          "mark": {"type": "text", "align": "left", "baseline": "middle", "fontSize": 7.8, "color": "#3fae98", "font": "Liberation Sans"},
          "encoding": {
            "x": {"field": "t", "type": "temporal", "scale": {"type": "utc", "domain": [1609129411200, 1623969105840], "nice": false}, "axis": null},
            "y": {"field": "p", "type": "quantitative", "scale": {"domain": [26807, 75308], "range": [193, 0], "nice": false, "zero": false}, "axis": null},
            "text": {"field": "s"}
          }
        }
      ]
    }
  ],
  "resolve": {"scale": {"y": "independent"}}
}
